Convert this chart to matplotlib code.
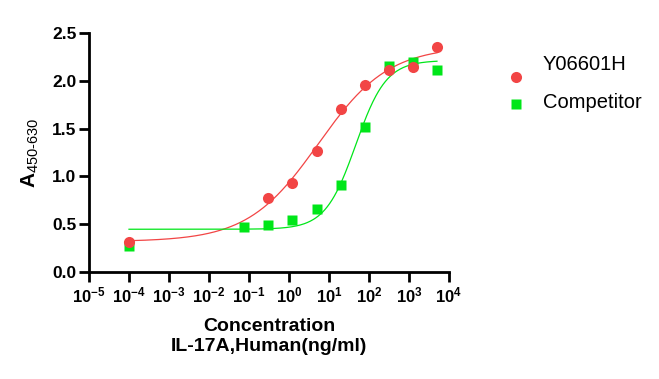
import numpy as np
import matplotlib
matplotlib.use("Agg")
import matplotlib.pyplot as plt
from matplotlib.lines import Line2D

plt.rcParams['font.family'] = ['Liberation Sans', 'DejaVu Sans']
plt.rcParams['mathtext.fontset'] = 'custom'
plt.rcParams['mathtext.rm'] = 'Liberation Sans'
plt.rcParams['mathtext.bf'] = 'Liberation Sans:bold'
plt.rcParams['mathtext.it'] = 'Liberation Sans:italic'

# ---- data ----
conc_y066 = [1e-4, 0.305, 1.22, 4.88, 19.5, 78.1, 312.5, 1250, 5000]
od_y066 = [0.315, 0.777, 0.935, 1.268, 1.706, 1.961, 2.110, 2.147, 2.350]
conc_comp = [1e-4, 0.0763, 0.305, 1.22, 4.88, 19.5, 78.1, 312.5, 1250, 5000]
od_comp = [0.270, 0.466, 0.490, 0.543, 0.655, 0.907, 1.517, 2.160, 2.195, 2.108]
series_names = ["Y06601H", "Competitor"]
colors = ["#F24545", "#00E619"]
xtick_exp = list(range(-5, 5))
yticks = [0.0, 0.5, 1.0, 1.5, 2.0, 2.5]


def model(p, lx):
    b, t, le, h = p
    return b + (t - b) / (1 + 10 ** ((le - lx) * h))


def fit4pl(x, y, p0):
    lx = np.log10(np.asarray(x, float))
    y = np.asarray(y, float)
    p = np.array(p0, float)
    lam = 1e-2
    for _ in range(500):
        r = y - model(p, lx)
        J = np.zeros((len(lx), 4))
        for i in range(4):
            dp = np.zeros(4); dp[i] = 1e-6
            J[:, i] = (model(p + dp, lx) - model(p - dp, lx)) / 2e-6
        A = J.T @ J
        g = J.T @ r
        step = np.linalg.solve(A + lam * np.diag(np.diag(A) + 1e-12), g)
        pn = p + step
        if np.sum((y - model(pn, lx)) ** 2) < np.sum(r ** 2):
            p = pn; lam *= 0.3
        else:
            lam *= 10
    return p


fig = plt.figure(figsize=(6.59, 3.79), dpi=100)
W, H = 659, 379
ax = fig.add_axes([89 / W, 1 - 272 / H, (449 - 89) / W, (272 - 33) / H])

fits = [fit4pl(conc_y066, od_y066, [0.3, 2.4, 0.8, 0.6]),
        fit4pl(conc_comp, od_comp, [0.45, 2.2, 1.6, 1.5])]
datasets = [(conc_y066, od_y066), (conc_comp, od_comp)]
markers = ['o', 's']

lxs = np.linspace(-4, np.log10(5000), 400)
for (x, y), p, c in zip(datasets, fits, colors):
    ax.plot(10 ** lxs, model(p, lxs), color=c, lw=0.9, zorder=2)
ax.plot(conc_comp, od_comp, 's', color=colors[1], ms=7.6, mec='none', zorder=3)
ax.plot(conc_y066, od_y066, 'o', color=colors[0], ms=8, mec='none', zorder=4)

ax.set_xscale('log')
ax.set_xlim(1e-5, 1e4)
ax.set_ylim(0, 2.5)
ax.set_xticks([10.0 ** e for e in xtick_exp])
ax.set_xticklabels([r'$\mathbf{10^{%d}}$' % e for e in xtick_exp])
ax.xaxis.set_minor_locator(matplotlib.ticker.NullLocator())
ax.set_yticks(yticks)
ax.set_yticklabels(['%.1f' % v for v in yticks], fontweight='bold', fontsize=12.5)
for s in ['top', 'right']:
    ax.spines[s].set_visible(False)
for s in ['left', 'bottom']:
    ax.spines[s].set_linewidth(2.0)
ax.tick_params(axis='both', width=2.0, length=7, color='black')
ax.tick_params(axis='x', labelsize=12, pad=3)
ax.tick_params(axis='y', pad=2)

ax.set_xlabel('Concentration\nIL-17A,Human(ng/ml)', fontsize=14, fontweight='bold',
              linespacing=1.22, labelpad=9)
ax.set_ylabel(r'$\mathbf{A}_{\mathrm{450\text{-}630}}$', fontsize=15, labelpad=6)
ax.yaxis.set_label_coords(-0.132, 0.5)

# legend
for i, (name, c, m) in enumerate(zip(series_names, colors, markers)):
    my = [77, 104][i]
    ty = [65, 103][i]
    fig.add_artist(Line2D([516 / W], [1 - my / H], marker=m, color=c, mec='none',
                          ms=8 if m == 'o' else 7.6, transform=fig.transFigure, ls='none'))
    fig.text(543 / W, 1 - ty / H, name, fontsize=14.5, va='center', ha='left')

fig.savefig('out.png', dpi=100)
